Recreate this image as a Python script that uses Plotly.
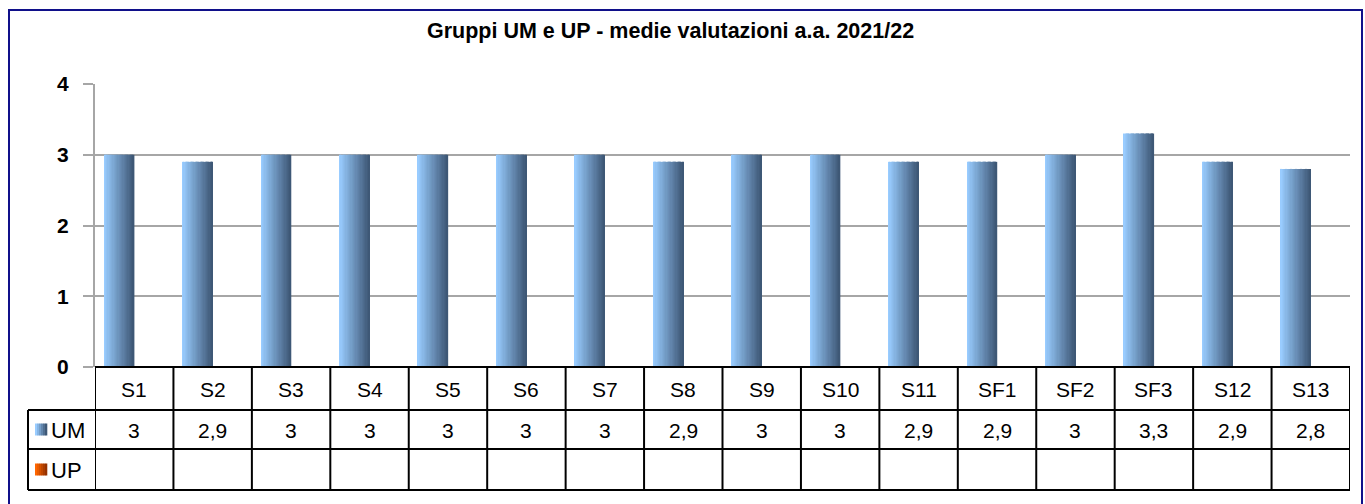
import plotly.graph_objects as go

# ---- data ----
categories = ["S1", "S2", "S3", "S4", "S5", "S6", "S7", "S8", "S9", "S10",
              "S11", "SF1", "SF2", "SF3", "S12", "S13"]
um_values = [3, 2.9, 3, 3, 3, 3, 3, 2.9, 3, 3, 2.9, 2.9, 3, 3.3, 2.9, 2.8]
um_labels = ["3", "2,9", "3", "3", "3", "3", "3", "2,9", "3", "3", "2,9", "2,9", "3", "3,3", "2,9", "2,8"]
up_values = [None] * len(categories)
series_names = ["UM", "UP"]
y_ticks = [0, 1, 2, 3, 4]
title_text = "Gruppi UM e UP - medie valutazioni a.a. 2021/22"

W, H = 1365, 504
# pixel geometry
PX_L, PX_R = 95, 1350
PY_TOP, PY_ZERO = 84, 367
ROW1, ROW2, ROW3 = 410, 449, 490
TBL_L = 28


def px(x):
    return x / W


def py(y):
    return 1 - y / H


def lerp(c1, c2, t):
    return "rgb(%d,%d,%d)" % tuple(round(a + (b - a) * t) for a, b in zip(c1, c2))


BLUE_L, BLUE_D = (153, 204, 255), (62, 88, 118)
ORANGE_L, ORANGE_D = (255, 102, 0), (150, 50, 0)

fig = go.Figure()

n = len(categories)
slot = (PX_R - PX_L) / n
bar_w = 30 / slot  # in category units
K = 24
# UM bars (left slot of each cluster), drawn as thin slices to give a horizontal gradient
for k in range(K):
    t = k / (K - 1)
    fig.add_trace(go.Bar(
        x=list(range(n)), y=um_values,
        width=bar_w / K * 1.15,
        offset=-bar_w + k * bar_w / K,
        marker=dict(color=lerp(BLUE_L, BLUE_D, t), line=dict(width=0)),
        showlegend=False, name=series_names[0],
    ))
# UP bars (right slot, no values)
fig.add_trace(go.Bar(x=list(range(n)), y=up_values, width=bar_w, offset=0,
                     marker=dict(color=lerp(ORANGE_L, ORANGE_D, 0.5)), showlegend=False,
                     name=series_names[1]))

shapes = []
line_k = dict(color="black", width=2)
# horizontal table lines
shapes.append(dict(type="line", xref="x", yref="paper", x0=-0.5, x1=n - 0.5,
                   y0=py(PY_ZERO), y1=py(PY_ZERO), line=line_k))
for yy in (ROW1, ROW2, ROW3):
    shapes.append(dict(type="line", xref="paper", yref="paper", x0=px(TBL_L), x1=px(PX_R),
                       y0=py(yy), y1=py(yy), line=line_k))
# vertical lines
for i in range(n + 1):
    shapes.append(dict(type="line", xref="x", yref="paper", x0=i - 0.5, x1=i - 0.5,
                       y0=py(PY_ZERO), y1=py(ROW3), line=line_k))
shapes.append(dict(type="line", xref="paper", yref="paper", x0=px(TBL_L), x1=px(TBL_L),
                   y0=py(ROW1), y1=py(ROW3), line=line_k))
# legend keys with gradient
for (c1, c2, yc) in ((BLUE_L, BLUE_D, (ROW1 + ROW2) / 2), (ORANGE_L, ORANGE_D, (ROW2 + ROW3) / 2)):
    kx0, kw, kh = 35, 12, 12
    steps = 6
    for s in range(steps):
        shapes.append(dict(type="rect", xref="paper", yref="paper",
                           x0=px(kx0 + s * kw / steps), x1=px(kx0 + (s + 1) * kw / steps + 0.3),
                           y0=py(yc + kh / 2), y1=py(yc - kh / 2),
                           fillcolor=lerp(c1, c2, s / (steps - 1)), line=dict(width=0)))
# outer border
shapes.append(dict(type="rect", xref="paper", yref="paper", x0=px(9), x1=px(1362),
                   y0=py(515), y1=py(10), line=dict(color="#10108a", width=2)))

annotations = []
FAM = "Liberation Sans, Arial"
font_t = dict(family=FAM, size=21, color="black")
for i, c in enumerate(categories):
    annotations.append(dict(x=i, y=py((PY_ZERO + ROW1) / 2 + 1), xref="x", yref="paper", text=c,
                            showarrow=False, font=font_t, xanchor="center", yanchor="middle"))
    annotations.append(dict(x=i, y=py((ROW1 + ROW2) / 2 + 1), xref="x", yref="paper", text=um_labels[i],
                            showarrow=False, font=font_t, xanchor="center", yanchor="middle"))
for name, yy in zip(series_names, ((ROW1 + ROW2) / 2 + 1, (ROW2 + ROW3) / 2 + 1)):
    annotations.append(dict(x=px(49), y=py(yy), xref="paper", yref="paper", text=name,
                            showarrow=False, font=dict(family=FAM, size=22, color="black"),
                            xanchor="left", yanchor="middle"))
annotations.append(dict(x=px(670), y=py(31), xref="paper", yref="paper", text="<b>%s</b>" % title_text,
                        showarrow=False, font=dict(family=FAM, size=21.5, color="black"),
                        xanchor="center", yanchor="middle"))

fig.update_layout(
    width=W, height=H, margin=dict(l=0, r=0, t=0, b=0, autoexpand=False),
    paper_bgcolor="white", plot_bgcolor="white",
    barmode="overlay", showlegend=False,
    xaxis=dict(domain=[px(PX_L), px(PX_R)], range=[-0.5, n - 0.5], showticklabels=False,
               showgrid=False, zeroline=False, showline=False, ticks="", automargin=False),
    yaxis=dict(domain=[py(PY_ZERO), py(PY_TOP)], range=[0, 4], tickvals=y_ticks,
               ticktext=["<b>%d</b>" % v for v in y_ticks],
               tickfont=dict(family=FAM, size=21, color="black"),
               showgrid=True, gridcolor="#a6a6a6", gridwidth=2, zeroline=False,
               showline=True, linecolor="#a6a6a6", linewidth=2,
               ticks="outside", ticklen=10, tickcolor="#a6a6a6", tickwidth=2,
               ticklabelstandoff=10, automargin=False),
    shapes=shapes, annotations=annotations,
)

fig.write_html("out.html", config={"displayModeBar": False},
               post_script="document.body.style.margin='0';document.body.style.overflow='hidden';")
